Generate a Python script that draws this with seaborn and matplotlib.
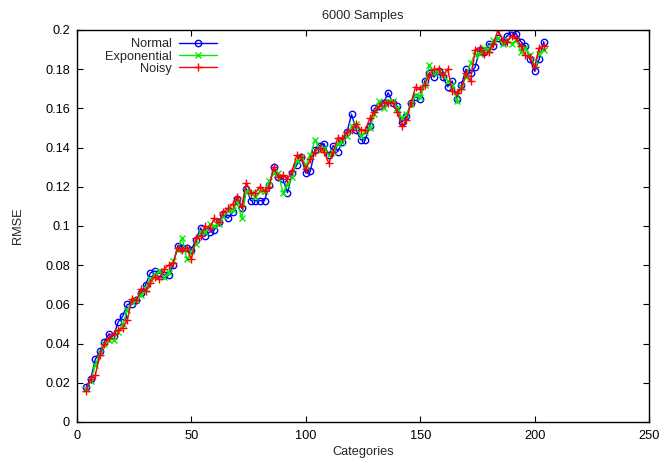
import matplotlib
matplotlib.use("Agg")
import matplotlib.pyplot as plt
import seaborn as sns
from matplotlib.ticker import FormatStrFormatter

categories = list(range(4, 206, 2))

normal = [
    0.018, 0.022, 0.032, 0.036, 0.041, 0.045, 0.044, 0.051, 0.054, 0.060,
    0.060, 0.062, 0.066, 0.070, 0.076, 0.077, 0.076, 0.075, 0.075, 0.080,
    0.090, 0.089, 0.089, 0.088, 0.093, 0.099, 0.095, 0.097, 0.098, 0.102,
    0.106, 0.104, 0.107, 0.114, 0.109, 0.119, 0.113, 0.113, 0.113, 0.113,
    0.121, 0.130, 0.125, 0.124, 0.117, 0.127, 0.131, 0.135, 0.127, 0.128,
    0.139, 0.141, 0.142, 0.136, 0.141, 0.138, 0.143, 0.148, 0.157, 0.149,
    0.144, 0.144, 0.151, 0.160, 0.161, 0.163, 0.168, 0.163, 0.161, 0.153,
    0.156, 0.163, 0.166, 0.165, 0.174, 0.178, 0.176, 0.179, 0.176, 0.171,
    0.174, 0.165, 0.172, 0.180, 0.178, 0.181, 0.190, 0.189, 0.193, 0.192,
    0.196, 0.194, 0.197, 0.199, 0.198, 0.194, 0.192, 0.185, 0.179, 0.185,
    0.194,
]

exponential = [
    0.017, 0.021, 0.029, 0.035, 0.040, 0.042, 0.042, 0.046, 0.050, 0.057,
    0.061, 0.062, 0.065, 0.068, 0.073, 0.075, 0.077, 0.074, 0.076, 0.082,
    0.088, 0.094, 0.083, 0.087, 0.091, 0.097, 0.097, 0.101, 0.100, 0.101,
    0.105, 0.108, 0.108, 0.112, 0.104, 0.118, 0.117, 0.115, 0.118, 0.118,
    0.123, 0.127, 0.127, 0.117, 0.121, 0.125, 0.133, 0.135, 0.131, 0.136,
    0.144, 0.139, 0.140, 0.136, 0.138, 0.142, 0.143, 0.146, 0.151, 0.152,
    0.146, 0.148, 0.150, 0.157, 0.164, 0.160, 0.164, 0.164, 0.160, 0.155,
    0.157, 0.162, 0.167, 0.166, 0.172, 0.182, 0.178, 0.179, 0.177, 0.174,
    0.172, 0.164, 0.171, 0.176, 0.183, 0.187, 0.188, 0.191, 0.190, 0.195,
    0.196, 0.193, 0.195, 0.193, 0.195, 0.189, 0.191, 0.187, 0.182, 0.188,
    0.190,
]

noisy = [
    0.016, 0.022, 0.024, 0.034, 0.040, 0.043, 0.045, 0.047, 0.048, 0.052,
    0.063, 0.062, 0.068, 0.067, 0.071, 0.074, 0.073, 0.078, 0.080, 0.081,
    0.089, 0.088, 0.089, 0.083, 0.094, 0.095, 0.100, 0.099, 0.104, 0.102,
    0.107, 0.109, 0.111, 0.115, 0.110, 0.122, 0.117, 0.117, 0.120, 0.118,
    0.120, 0.130, 0.125, 0.126, 0.124, 0.128, 0.136, 0.135, 0.129, 0.134,
    0.138, 0.140, 0.138, 0.132, 0.138, 0.145, 0.145, 0.148, 0.149, 0.152,
    0.149, 0.149, 0.155, 0.158, 0.161, 0.163, 0.163, 0.163, 0.158, 0.151,
    0.154, 0.163, 0.171, 0.170, 0.172, 0.177, 0.180, 0.180, 0.177, 0.180,
    0.169, 0.168, 0.170, 0.178, 0.174, 0.190, 0.191, 0.188, 0.189, 0.193,
    0.200, 0.195, 0.194, 0.197, 0.196, 0.192, 0.187, 0.186, 0.181, 0.191,
    0.192,
]

x_ticks = [0, 50, 100, 150, 200, 250]
y_ticks = [0, 0.02, 0.04, 0.06, 0.08, 0.1, 0.12, 0.14, 0.16, 0.18, 0.2]

FS = 9.2

sns.set_style("ticks")
plt.rcParams["font.family"] = ["Liberation Sans", "DejaVu Sans"]
plt.rcParams["font.size"] = FS

fig = plt.figure(figsize=(6.61, 4.66), dpi=100)
ax = fig.add_axes([77 / 661, 44 / 466, 572 / 661, 392 / 466])

sns.lineplot(x=categories, y=normal, ax=ax, color="#0000ff", lw=1,
             marker="o", markersize=4.6, markerfacecolor="none",
             markeredgecolor="#0000ff", markeredgewidth=1, label="Normal")
sns.lineplot(x=categories, y=exponential, ax=ax, color="#00ee00", lw=1,
             marker="x", markersize=4.6, markeredgecolor="#00ee00",
             markeredgewidth=1, label="Exponential")
sns.lineplot(x=categories, y=noisy, ax=ax, color="#ff0000", lw=1,
             marker="+", markersize=6.2, markeredgecolor="#ff0000",
             markeredgewidth=1, label="Noisy")

ax.set_xlim(0, 250)
ax.set_ylim(0, 0.2)
ax.set_xticks(x_ticks)
ax.set_yticks(y_ticks)
ax.yaxis.set_major_formatter(FormatStrFormatter("%g"))
ax.tick_params(axis="both", direction="in", top=True, right=True, length=4,
               width=0.8, labelsize=FS, colors="black")
ax.tick_params(axis="x", pad=6)
ax.tick_params(axis="y", pad=5)
for s in ax.spines.values():
    s.set_visible(True)
    s.set_linewidth(1)
    s.set_color("black")

ax.set_title("6000 Samples", fontsize=FS, pad=8)
ax.set_xlabel("Categories", fontsize=FS, labelpad=3)
ax.set_ylabel("RMSE", fontsize=FS, labelpad=15)

leg = ax.legend(loc="upper left", bbox_to_anchor=(0.035, 1.0), frameon=False,
                markerfirst=False, handlelength=3.0, handletextpad=0.55,
                labelspacing=0.02, borderaxespad=0.25, fontsize=FS)

fig.savefig("out.png", dpi=100)
